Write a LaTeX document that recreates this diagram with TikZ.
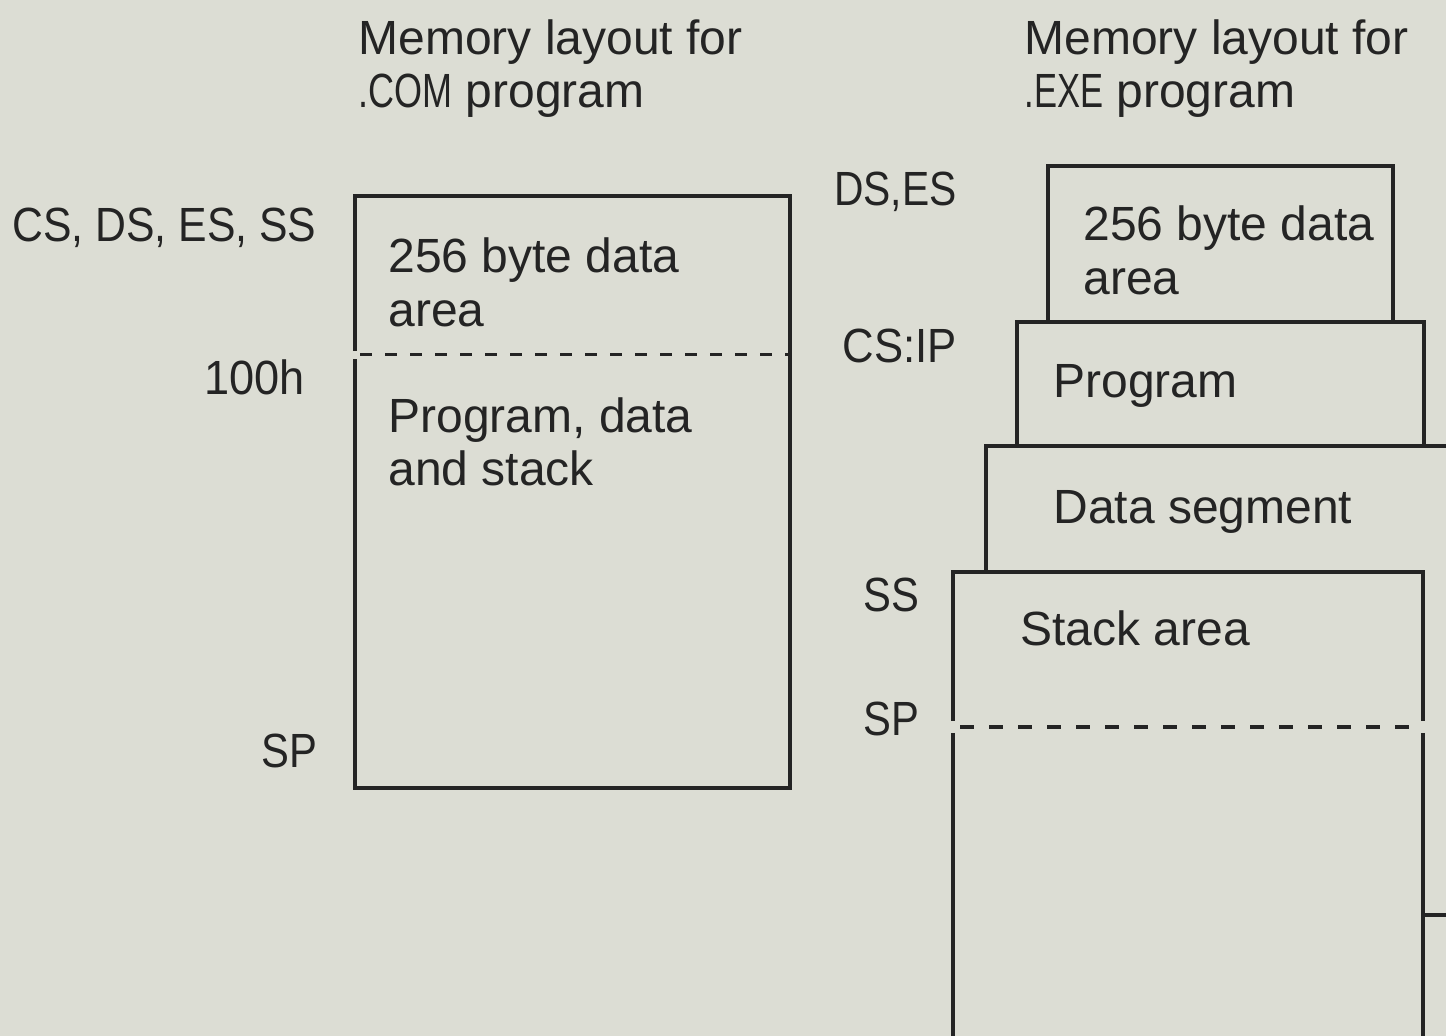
\documentclass[tikz,border=0pt]{standalone}
\usepackage{fontspec}
\setmainfont{Liberation Sans}
\usepackage{graphicx}
\definecolor{paper}{RGB}{220,221,212}
\definecolor{ink}{RGB}{36,36,36}
\newcommand{\cnd}[2]{\scalebox{#1}[1]{#2}}
\tikzset{
  lbl/.style={inner sep=0pt, anchor=base west, text=ink, font=\fontsize{24}{28}\selectfont},
  lblr/.style={lbl, anchor=base east},
  edge/.style={draw=ink, line width=1.8pt},
  sepleft/.style={draw=ink, line width=1.5pt, dash pattern=on 6pt off 6.5pt},
  sepright/.style={draw=ink, line width=1.7pt, dash pattern=on 7pt off 7.5pt},
}
\begin{document}
\begin{tikzpicture}[x=0.5pt,y=-0.5pt]
\fill[paper] (0,0) rectangle (1446,1036);
\useasboundingbox (0,0) rectangle (1446,1036);

% ---- .COM layout box
\draw[edge] (355,351) -- (355,196) -- (790,196) -- (790,788) -- (355,788) -- (355,359);
\draw[sepleft] (360,355) -- (790,355);

% ---- .EXE layout boxes
\draw[edge] (1048,322) -- (1048,166) -- (1393,166) -- (1393,322);
\draw[edge] (1017,446) -- (1017,322) -- (1424,322) -- (1424,446);
\draw[edge] (986,572) -- (986,446) -- (1450,446);
\draw[edge] (953,721) -- (953,572) -- (1423,572) -- (1423,721);
\draw[edge] (953,733) -- (953,1045);
\draw[edge] (1423,733) -- (1423,1045);
\draw[edge] (1423,915) -- (1450,915);
\draw[sepright] (960,727) -- (1418,727);

% ---- titles
\node[lbl] (t1a) at (358,55) {Memory layout for};
\node[lbl] (t1b) at (358,108) {\cnd{0.75}{.COM} program};
\node[lbl] (t2a) at (1024,55) {Memory layout for};
\node[lbl] (t2b) at (1024,108) {\cnd{0.72}{.EXE} program};

% ---- .COM labels
\node[lbl] (csds) at (12,242) {\cnd{0.89}{CS, DS, ES, SS}};
\node[lblr] (h100) at (305,395) {\cnd{0.94}{100h}};
\node[lblr] (spl) at (318,768) {\cnd{0.87}{SP}};
\node[lbl] (c1) at (388,273) {256 byte data};
\node[lbl] (c2) at (388,327) {area};
\node[lbl] (c3) at (388,433) {Program, data};
\node[lbl] (c4) at (388,486) {and stack};

% ---- .EXE labels
\node[lblr] (dses) at (957,206) {\cnd{0.85}{DS,ES}};
\node[lblr] (csip) at (957,363) {\cnd{0.91}{CS:IP}};
\node[lblr] (ss) at (920,612) {\cnd{0.87}{SS}};
\node[lblr] (spr) at (920,736) {\cnd{0.87}{SP}};
\node[lbl] (e1) at (1083,241) {256 byte data};
\node[lbl] (e2) at (1083,295) {area};
\node[lbl] (e3) at (1053,398) {Program};
\node[lbl] (e4) at (1053,524) {Data segment};
\node[lbl] (e5) at (1020,646) {Stack area};
\end{tikzpicture}
\end{document}
